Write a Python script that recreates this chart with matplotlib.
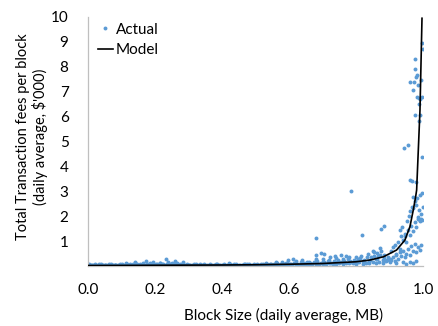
import matplotlib
matplotlib.use("Agg")
import matplotlib.pyplot as plt
from matplotlib.lines import Line2D

plt.rcParams['font.family'] = ['Lato', 'DejaVu Sans']

act_x = [
    # 0.00 - 0.10
    0.000, 0.005, 0.010, 0.015, 0.020, 0.025, 0.030, 0.035, 0.040, 0.045, 0.050,
    0.055, 0.060, 0.065, 0.070, 0.075, 0.080, 0.085, 0.090, 0.095, 0.100,
    0.020, 0.040, 0.060, 0.080,
    0.002, 0.012, 0.022, 0.032, 0.042, 0.052, 0.062, 0.072, 0.082, 0.092,
    # 0.10 - 0.30
    0.105, 0.115, 0.125, 0.135, 0.145, 0.155, 0.165, 0.175, 0.185, 0.195,
    0.205, 0.215, 0.225, 0.235, 0.245, 0.255, 0.265, 0.275, 0.285, 0.295,
    0.11, 0.12, 0.13, 0.14, 0.15, 0.16, 0.17, 0.18, 0.19, 0.20,
    0.21, 0.22, 0.23, 0.24, 0.25, 0.26, 0.27, 0.28, 0.29, 0.30,
    0.102, 0.122, 0.142, 0.162, 0.182, 0.202, 0.222, 0.242, 0.262, 0.282,
    0.114, 0.139, 0.174, 0.194, 0.234, 0.261, 0.284, 0.240, 0.250, 0.185, 0.215,
    # 0.30 - 0.60
    0.305, 0.315, 0.325, 0.335, 0.345, 0.355, 0.365, 0.375, 0.385, 0.395,
    0.405, 0.415, 0.425, 0.435, 0.445, 0.455, 0.465, 0.475, 0.485, 0.495,
    0.505, 0.515, 0.525, 0.535, 0.545, 0.555, 0.565, 0.575, 0.585, 0.595,
    0.31, 0.32, 0.33, 0.34, 0.35, 0.36, 0.37, 0.38, 0.39, 0.40,
    0.41, 0.42, 0.43, 0.44, 0.45, 0.46, 0.47, 0.48, 0.49, 0.50,
    0.51, 0.52, 0.53, 0.54, 0.55, 0.56, 0.57, 0.58, 0.59, 0.60,
    0.302, 0.322, 0.342, 0.362, 0.382, 0.402, 0.422, 0.442, 0.462, 0.482,
    0.502, 0.522, 0.542, 0.562, 0.582,
    0.42, 0.47, 0.53, 0.56, 0.58, 0.59,
    # 0.60 - 0.80
    0.605, 0.615, 0.625, 0.635, 0.645, 0.655, 0.665, 0.675, 0.685, 0.695,
    0.705, 0.715, 0.725, 0.735, 0.745, 0.755, 0.765, 0.775, 0.785, 0.795,
    0.61, 0.62, 0.63, 0.64, 0.65, 0.66, 0.67, 0.68, 0.69, 0.70,
    0.71, 0.72, 0.73, 0.74, 0.75, 0.76, 0.77, 0.78, 0.79, 0.80,
    0.62, 0.64, 0.66, 0.68, 0.70, 0.72, 0.74, 0.76, 0.78, 0.80,
    0.602, 0.622, 0.642, 0.662, 0.682, 0.702, 0.722, 0.742, 0.762, 0.782,
    0.598, 0.613, 0.681, 0.681, 0.697, 0.704, 0.737, 0.722, 0.784, 0.755, 0.770,
    # 0.80 - 0.90
    0.805, 0.815, 0.825, 0.835, 0.845, 0.855, 0.865, 0.875, 0.885, 0.895,
    0.81, 0.82, 0.83, 0.84, 0.85, 0.86, 0.87, 0.88, 0.89, 0.90,
    0.80, 0.82, 0.84, 0.86, 0.88, 0.90,
    0.803, 0.813, 0.823, 0.833, 0.843, 0.853, 0.863, 0.873, 0.883, 0.893,
    0.819, 0.876, 0.884, 0.872, 0.862, 0.850,
    # 0.90 - 1.00
    0.905, 0.910, 0.915, 0.920, 0.925, 0.930, 0.935, 0.940, 0.945, 0.950,
    0.955, 0.960, 0.965, 0.970, 0.975, 0.980, 0.985, 0.990, 0.995,
    0.905, 0.910, 0.915, 0.920, 0.925, 0.930, 0.935, 0.940, 0.945, 0.950,
    0.955, 0.960, 0.965, 0.970, 0.975, 0.980, 0.985, 0.990, 0.995,
    0.930, 0.936, 0.945, 0.952, 0.958, 0.962, 0.966, 0.971, 0.975, 0.979,
    0.983, 0.986, 0.989, 0.992, 0.995, 0.998,
    0.92, 0.94, 0.95, 0.96, 0.97, 0.98,
    0.996, 1.000, 0.991, 0.971,
    # 顶部散点
    0.997, 1.000, 0.976, 0.975, 0.983, 0.978, 0.962, 0.973, 0.994, 0.984,
    0.971, 0.983, 0.989, 0.998, 0.991, 0.988, 0.977, 0.990, 0.988, 0.942,
    0.956, 0.997, 0.960, 0.966, 0.978,
]
act_y = [
    0.05, 0.03, 0.06, 0.04, 0.08, 0.05, 0.03, 0.06, 0.04, 0.05, 0.03,
    0.06, 0.04, 0.05, 0.07, 0.04, 0.05, 0.06, 0.04, 0.07, 0.05,
    0.02, 0.07, 0.02, 0.03,
    0.07, 0.04, 0.05, 0.08, 0.03, 0.06, 0.07, 0.03, 0.06, 0.05,
    0.06, 0.08, 0.07, 0.10, 0.09, 0.08, 0.11, 0.07, 0.09, 0.10,
    0.08, 0.12, 0.09, 0.07, 0.10, 0.08, 0.11, 0.09, 0.07, 0.08,
    0.04, 0.05, 0.03, 0.06, 0.05, 0.04, 0.06, 0.05, 0.04, 0.03,
    0.05, 0.06, 0.04, 0.05, 0.03, 0.06, 0.05, 0.04, 0.06, 0.05,
    0.07, 0.05, 0.09, 0.06, 0.08, 0.07, 0.10, 0.06, 0.08, 0.07,
    0.13, 0.15, 0.21, 0.17, 0.28, 0.21, 0.15, 0.18, 0.14, 0.14, 0.13,
    0.06, 0.08, 0.05, 0.07, 0.09, 0.06, 0.08, 0.05, 0.07, 0.06,
    0.09, 0.05, 0.07, 0.08, 0.06, 0.05, 0.07, 0.09, 0.06, 0.08,
    0.07, 0.10, 0.06, 0.08, 0.09, 0.07, 0.11, 0.08, 0.10, 0.12,
    0.03, 0.04, 0.05, 0.03, 0.04, 0.02, 0.05, 0.04, 0.03, 0.04,
    0.05, 0.03, 0.04, 0.05, 0.03, 0.04, 0.02, 0.05, 0.04, 0.03,
    0.05, 0.04, 0.06, 0.05, 0.04, 0.06, 0.05, 0.07, 0.06, 0.08,
    0.05, 0.07, 0.06, 0.04, 0.07, 0.05, 0.06, 0.08, 0.05, 0.07,
    0.06, 0.09, 0.07, 0.10, 0.09,
    0.12, 0.10, 0.14, 0.16, 0.18, 0.13,
    0.10, 0.14, 0.08, 0.16, 0.12, 0.18, 0.10, 0.15, 0.20, 0.13,
    0.17, 0.22, 0.14, 0.19, 0.25, 0.16, 0.21, 0.28, 0.18, 0.24,
    0.05, 0.07, 0.04, 0.06, 0.09, 0.05, 0.08, 0.06, 0.10, 0.07,
    0.09, 0.11, 0.08, 0.10, 0.12, 0.09, 0.13, 0.11, 0.14, 0.12,
    0.20, 0.24, 0.18, 0.27, 0.30, 0.26, 0.33, 0.30, 0.36, 0.38,
    0.07, 0.12, 0.09, 0.14, 0.11, 0.16, 0.13, 0.18, 0.15, 0.20,
    0.24, 0.27, 1.11, 0.44, 0.51, 0.47, 0.40, 0.35, 3.01, 0.45, 0.42,
    0.30, 0.42, 0.25, 0.48, 0.35, 0.55, 0.40, 0.60, 0.45, 0.38,
    0.15, 0.20, 0.12, 0.22, 0.18, 0.28, 0.16, 0.25, 0.20, 0.30,
    0.08, 0.10, 0.13, 0.11, 0.14, 0.17,
    0.22, 0.32, 0.18, 0.36, 0.26, 0.40, 0.30, 0.44, 0.34, 0.24,
    1.24, 1.47, 1.61, 0.71, 0.51, 0.62,
    0.25, 0.35, 0.20, 0.45, 0.30, 0.55, 0.40, 0.60, 0.35, 0.50,
    0.70, 0.45, 0.80, 0.60, 0.90, 0.55, 0.75, 0.65, 0.85,
    0.60, 0.75, 0.85, 0.50, 0.95, 0.70, 1.20, 1.05, 1.30, 0.95,
    1.45, 1.25, 1.60, 1.40, 1.75, 1.55, 1.90, 1.80, 2.10,
    1.45, 1.55, 1.20, 1.80, 2.00, 2.20, 2.38, 2.31, 2.60, 2.45,
    2.75, 1.98, 2.25, 1.85, 1.90, 2.92,
    0.12, 0.15, 0.10, 0.18, 0.14, 0.20,
    1.85, 2.38, 2.85, 2.78,
    8.94, 8.70, 8.33, 7.92, 7.66, 7.58, 7.40, 7.40, 7.47, 7.27,
    7.06, 6.78, 6.73, 6.79, 6.71, 6.52, 6.05, 6.05, 5.82, 4.75,
    4.85, 4.38, 3.45, 3.41, 3.39,
]

# 模型曲线
model_x = [0.0, 0.2, 0.4, 0.5, 0.6, 0.7, 0.8, 0.842, 0.882, 0.921, 0.946,
           0.961, 0.971, 0.978, 0.981, 0.986, 0.991, 0.997]
model_y = [0.02, 0.03, 0.04, 0.05, 0.07, 0.10, 0.17, 0.24, 0.37, 0.64, 1.04,
           1.58, 2.25, 2.78, 3.05, 4.66, 6.27, 9.95]

x_ticks = [0.0, 0.2, 0.4, 0.6, 0.8, 1.0]
y_ticks = [1, 2, 3, 4, 5, 6, 7, 8, 9, 10]

fig = plt.figure(figsize=(4.38, 3.26), dpi=100)
ax = fig.add_axes([88 / 438, 60 / 326, 335 / 438, 249 / 326])

ax.scatter(act_x, act_y, s=8, color='#5B9BD5', linewidths=0, zorder=2)
ax.plot(model_x, model_y, color='black', lw=1.2, zorder=3)

ax.set_xlim(0, 1.0)
ax.set_ylim(0, 10)
ax.set_xticks(x_ticks)
ax.set_xticklabels(['%.1f' % v for v in x_ticks])
ax.set_yticks(y_ticks)
ax.set_yticklabels([str(v) for v in y_ticks])
ax.tick_params(length=0, labelsize=11, colors='#000000')
ax.tick_params(axis='x', pad=12)
ax.tick_params(axis='y', pad=14)

for s in ['top', 'right']:
    ax.spines[s].set_visible(False)
for s in ['left', 'bottom']:
    ax.spines[s].set_color('#BFBFBF')
    ax.spines[s].set_linewidth(0.9)

ax.set_xlabel('Block Size (daily average, MB)', fontsize=11)
ax.xaxis.set_label_coords(0.585, -0.17)
ax.set_ylabel("Total Transaction fees per block\n(daily average, $'000)",
              fontsize=10.5, multialignment='center', linespacing=1.15)
ax.yaxis.set_label_coords(-0.12, 0.52)

handles = [
    Line2D([], [], marker='o', ls='none', color='#5B9BD5', markersize=2.8,
           markeredgewidth=0),
    Line2D([], [], color='black', lw=1.2),
]
ax.legend(handles, ['Actual', 'Model'], loc='upper left',
          bbox_to_anchor=(0.02, 0.99), frameon=False, fontsize=11,
          handlelength=1.0, handletextpad=0.2, labelspacing=0.45,
          borderpad=0.2, borderaxespad=0)

fig.savefig('out.png', dpi=100)
